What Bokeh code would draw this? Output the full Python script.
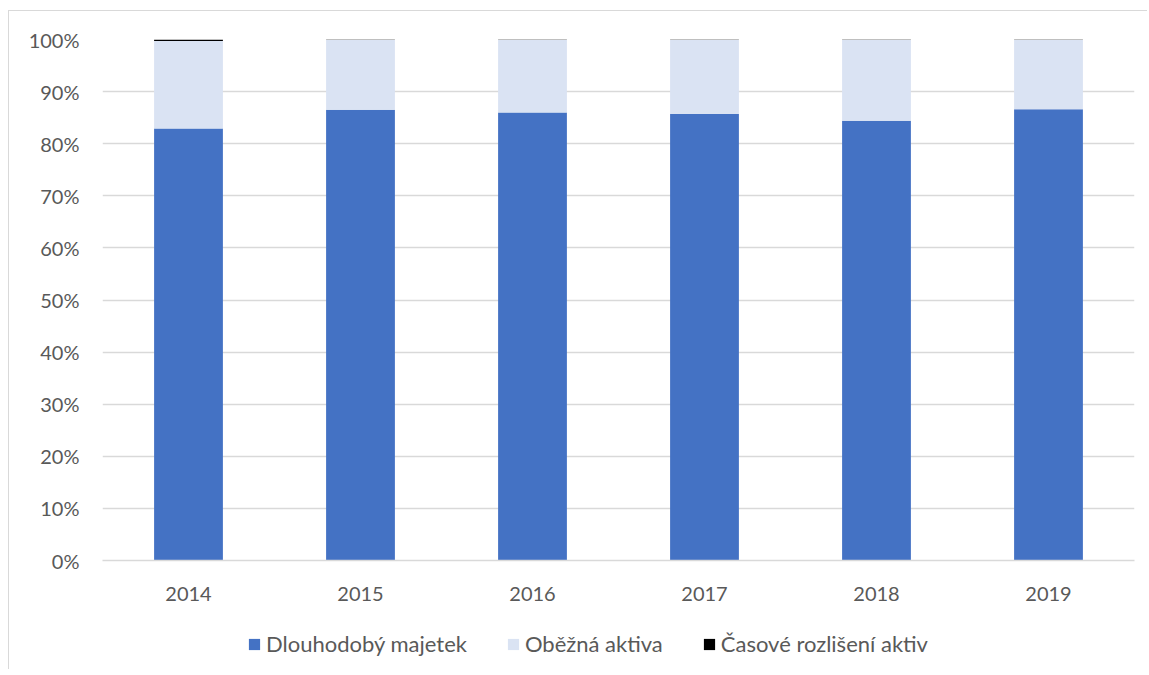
from bokeh.plotting import figure
from bokeh.layouts import column
from bokeh.models import ColumnDataSource, Legend, LegendItem, NumeralTickFormatter, FixedTicker, Range1d, FactorRange
from bokeh.embed import file_html
from bokeh.resources import INLINE

years = ["2014", "2015", "2016", "2017", "2018", "2019"]
dlouhodoby = [82.9, 86.5, 86.0, 85.7, 84.4, 86.6]
casove = [0.3, 0.1, 0.1, 0.1, 0.1, 0.1]
obezna = [16.8, 13.4, 13.9, 14.2, 15.5, 13.3]
series = ["Dlouhodobý majetek", "Oběžná aktiva", "Časové rozlišení aktiv"]
colors = ["#4472C4", "#DAE3F3", "#000000"]
keys = ["d", "o", "c"]

src = ColumnDataSource(data=dict(years=years,
                                 d=[v / 100 for v in dlouhodoby],
                                 o=[v / 100 for v in obezna],
                                 c=[v / 100 for v in casove]))

FONT = "Lato"
FS = "20px"
p = figure(x_range=years, y_range=Range1d(0, 1),
           output_backend="svg", toolbar_location=None,
           min_border_left=93, min_border_right=14, min_border_top=28, min_border_bottom=50)
p.frame_width = 1031
p.frame_height = 520

r = p.vbar_stack(keys, x="years", width=0.4, color=colors, source=src, line_width=0)

p.outline_line_color = None
p.xgrid.grid_line_color = None
p.ygrid.grid_line_color = "#d9d9d9"
p.ygrid.grid_line_width = 1.3
p.yaxis.ticker = FixedTicker(ticks=[i / 10 for i in range(11)])
p.yaxis.formatter = NumeralTickFormatter(format="0%")
for ax in (p.xaxis, p.yaxis):
    ax.axis_line_color = None
    ax.major_tick_line_color = None
    ax.minor_tick_line_color = None
    ax.major_label_text_font = FONT
    ax.major_label_text_font_size = FS
    ax.major_label_text_color = "#595959"
p.xaxis.axis_line_color = "#d9d9d9"
p.xaxis.axis_line_width = 1.3
p.xaxis.major_label_standoff = 20
p.yaxis.major_label_standoff = 17
p.x_range.range_padding = 0
p.styles = {"border-left": "1px solid #d9d9d9", "border-top": "1px solid #d9d9d9",
            "margin-left": "8px", "margin-top": "10px"}

# legend strip below the chart (its bars sit outside the visible y range)
lp = figure(x_range=FactorRange(*years), y_range=Range1d(2, 3), width=1138, height=60,
            output_backend="svg", toolbar_location=None,
            x_axis_location=None, y_axis_location=None,
            min_border_left=0, min_border_right=0, min_border_top=0, min_border_bottom=0)
lr = lp.vbar_stack(keys, x="years", width=0.4, color=colors, source=src, line_width=0)
lp.outline_line_color = None
lp.grid.grid_line_color = None
legend = Legend(items=[LegendItem(label=s, renderers=[rr]) for s, rr in zip(series, lr)],
                orientation="horizontal", location=(145, 12),
                label_text_font=FONT, label_text_font_size="22px", label_text_color="#595959",
                glyph_width=14, glyph_height=14, label_standoff=5, spacing=39,
                border_line_color=None, background_fill_alpha=0, padding=0, margin=0)
lp.add_layout(legend, "center")
lp.styles = {"border-left": "1px solid #d9d9d9", "margin-left": "8px"}

layout = column(p, lp, spacing=0)
open("out.html", "w").write(file_html(layout, INLINE))
